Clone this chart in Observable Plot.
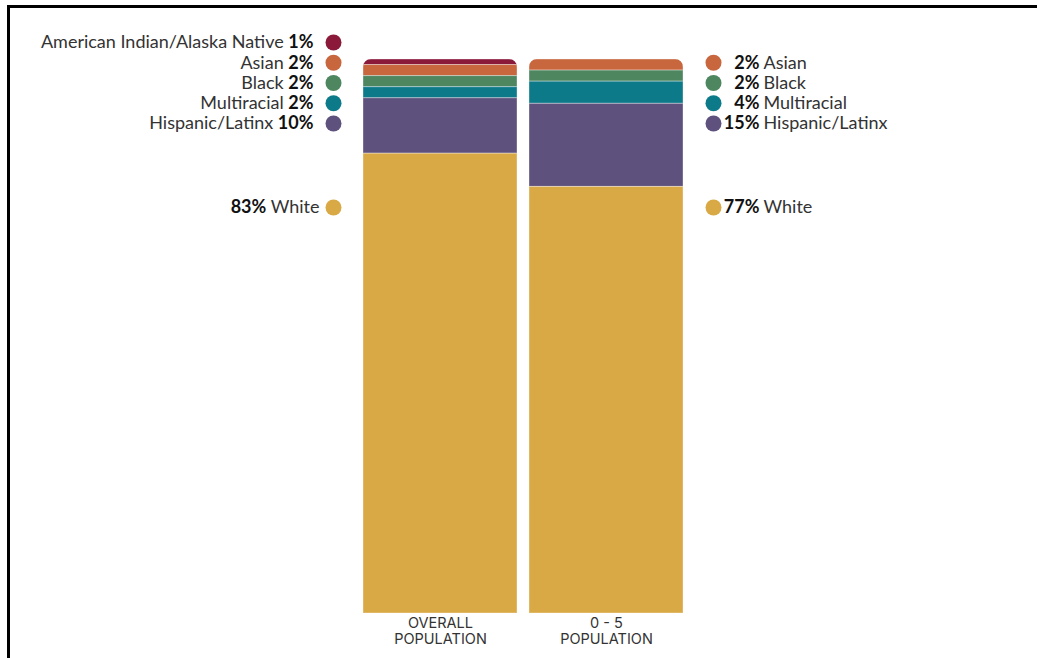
<!DOCTYPE html>
<html><head><meta charset="utf-8">
<script src="https://cdn.jsdelivr.net/npm/d3@7"></script>
<script src="https://cdn.jsdelivr.net/npm/@observablehq/plot@0.6"></script>
<style>
body{margin:0;background:#fff;}
#wrap{position:relative;width:1037px;height:658px;overflow:hidden;background:#fff}
#frame{position:absolute;left:7px;top:5px;right:-20px;bottom:-20px;border-top:3px solid #000;border-left:3px solid #000;pointer-events:none}
</style></head><body>
<div id="wrap"><div id="chart"></div><div id="frame"></div></div>
<script>
// ---- data ----
const races = ["American Indian/Alaska Native", "Asian", "Black", "Multiracial", "Hispanic/Latinx", "White"];
const overall = [1, 2, 2, 2, 10, 83];
const age05 = [0, 2, 2, 4, 15, 77];
const groups = ["OVERALL POPULATION", "0 - 5 POPULATION"];
const groupTicks = ["OVERALL\nPOPULATION", "0 - 5\nPOPULATION"];
const colors = ["#8B1A3A", "#C8663E", "#4E8660", "#0D7A8A", "#5E517E", "#D9A945"];

// ---- table ----
const rows = [];
races.forEach((r, i) => {
  if (overall[i] > 0) rows.push({group: groups[0], race: r, value: overall[i], i});
  if (age05[i] > 0) rows.push({group: groups[1], race: r, value: age05[i], i});
});

// ---- layout ----
const W = 1037, H = 658, mTop = 59, mBottom = 45;
const plotH = H - mTop - mBottom;
const rowOffset = -17, rowGap = 20.25, whiteOffset = 148; // legend rows, px from bar top
const rowY = i => 100 * (1 - (races[i] === "White" ? whiteOffset : rowOffset + rowGap * i) / plotH);
const labelFont = "Lato, 'Source Sans Pro', sans-serif";
const fs = 18;

const left = rows.filter(d => d.group === groups[0]);
const right = rows.filter(d => d.group === groups[1]);
const nonWhite = d => d.race !== "White";
const isWhite = d => d.race === "White";

function boldPercent(index, scales, values, dims, ctx, next) {
  const g = next(index, scales, values, dims, ctx);
  g.querySelectorAll("text").forEach(t => {
    const s = t.textContent;
    t.textContent = "";
    s.split(" ").forEach((tok, k, arr) => {
      const sp = document.createElementNS("http://www.w3.org/2000/svg", "tspan");
      sp.textContent = tok + (k < arr.length - 1 ? " " : "");
      if (tok.endsWith("%")) { sp.setAttribute("font-weight", "bold"); sp.setAttribute("fill", "#111"); }
      t.appendChild(sp);
    });
  });
  return g;
}

function roundTops(index, scales, values, dims, ctx, next) {
  const g = next(index, scales, values, dims, ctx);
  const ns = "http://www.w3.org/2000/svg";
  const ext = new Map();
  g.querySelectorAll("rect").forEach(r => {
    const x = +r.getAttribute("x"), w = +r.getAttribute("width");
    const y = +r.getAttribute("y"), h = +r.getAttribute("height");
    const e = ext.get(x) || {x, w, y0: Infinity, y1: -Infinity};
    e.y0 = Math.min(e.y0, y); e.y1 = Math.max(e.y1, y + h);
    ext.set(x, e);
  });
  const outer = document.createElementNS(ns, "g");
  const defs = document.createElementNS(ns, "defs");
  const cp = document.createElementNS(ns, "clipPath");
  cp.setAttribute("id", "bar-round-clip");
  for (const e of ext.values()) {
    const r = document.createElementNS(ns, "rect");
    r.setAttribute("x", e.x); r.setAttribute("width", e.w);
    r.setAttribute("y", e.y0); r.setAttribute("height", e.y1 - e.y0 + 12);
    r.setAttribute("rx", 8); r.setAttribute("ry", 8);
    cp.appendChild(r);
  }
  defs.appendChild(cp);
  outer.appendChild(defs);
  g.setAttribute("clip-path", "url(#bar-round-clip)");
  outer.appendChild(g);
  return outer;
}

const color = {domain: races, range: colors};

const chart = Plot.plot({
  width: W, height: H,
  marginTop: mTop, marginBottom: mBottom, marginLeft: 357, marginRight: W - 689,
  style: {fontFamily: labelFont, background: "transparent", overflow: "visible"},
  x: {domain: groups, paddingInner: 12 / 166, paddingOuter: 6 / 166, align: 0.5, label: null},
  y: {domain: [0, 100], axis: null},
  color,
  marks: [
    Plot.barY(rows, Plot.stackY({
      x: "group", y: "value", fill: "race", z: "race",
      order: races.slice().reverse(),
      stroke: "#fff", strokeOpacity: 0.35, strokeWidth: 1,
      render: roundTops
    })),
    Plot.axisX({
      tickSize: 0, tickPadding: 3, label: null,
      tickFormat: d => groupTicks[groups.indexOf(d)],
      fontSize: 14.5, lineHeight: 1.12, fill: "#333",
      fontFamily: "Inter, 'Noto Sans', sans-serif"
    }),
    // left legend (overall)
    Plot.dot(left, {x: "group", y: d => rowY(d.i), fill: "race", r: 8, dx: -107, stroke: null}),
    Plot.text(left.filter(nonWhite), {
      x: "group", y: d => rowY(d.i), text: d => `${d.race} ${d.value}%`,
      textAnchor: "end", dx: -127, fontSize: fs, fill: "#333", render: boldPercent
    }),
    Plot.text(left.filter(isWhite), {
      x: "group", y: d => rowY(d.i), text: d => `${d.value}% ${d.race}`,
      textAnchor: "end", dx: -121, fontSize: fs, fill: "#333", render: boldPercent
    }),
    // right legend (0-5)
    Plot.dot(right, {x: "group", y: d => rowY(d.i), fill: "race", r: 8, dx: 107, stroke: null}),
    Plot.text(right, {
      x: "group", y: d => rowY(d.i), text: d => `${d.value}%`,
      textAnchor: "end", dx: 153, fontSize: fs, fill: "#111", fontWeight: "bold"
    }),
    Plot.text(right, {
      x: "group", y: d => rowY(d.i), text: "race",
      textAnchor: "start", dx: 157, fontSize: fs, fill: "#333"
    })
  ]
});
document.getElementById("chart").appendChild(chart);
</script>
</body></html>
